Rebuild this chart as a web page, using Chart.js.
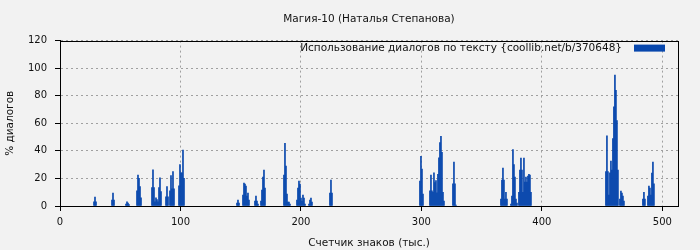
<!DOCTYPE html>
<html>
<head>
<meta charset="utf-8">
<script src="https://cdn.jsdelivr.net/npm/chart.js@4"></script>
<style>
  html, body { margin: 0; padding: 0; background: #f2f2f2; }
  #wrap { width: 700px; height: 250px; }
</style>
</head>
<body>
<div id="wrap"><canvas id="chart" width="700" height="250"></canvas></div>
<script>
const title = "Магия-10 (Наталья Степанова)";
const seriesLabel = "Использование диалогов по тексту {coollib.net/b/370648}";
const xTitle = "Счетчик знаков (тыс.)";
const yTitle = "% диалогов";

// each bar covers one bin of ~0.83 thousand characters
const binWidth = 0.83;
// first bin of each run of non-zero bars
const groupBins = [34, 52, 66, 77, 92, 106, 110, 119, 177, 183, 195, 201, 224, 237, 249, 270,
  360, 370, 393, 441, 451, 459, 546, 560, 583, 588];
// % of dialogue in consecutive bins of each run
const groupValues = [
  [3, 6.5, 3],
  [4.3, 9.4, 4.3],
  [1.4, 3, 2.2, 1],
  [11, 22.5, 20, 14, 6],
  [13.3, 26.3, 13.3, 3.1, 6, 4.6, 3.1, 13.3, 20.5, 10.4],
  [6.7, 14, 6.7],
  [11, 22, 12.5, 25, 12.5],
  [14.7, 30, 24, 24, 40.5, 20],
  [2.2, 4.3, 2.2],
  [8, 16.6, 15.9, 14.5, 7.2, 9.4, 4.3],
  [3.6, 7.2, 3.6, 1.4],
  [3.6, 11.6, 21, 26, 13],
  [22.4, 45.5, 28.9, 8.7, 2.9, 2.9, 1.4],
  [4.3, 13, 18, 15.9, 5.8, 3.6, 8, 5.8, 1.4],
  [1.4, 4.3, 5.8, 2.9],
  [9.4, 18.8, 9.4],
  [18, 36, 26.7, 8.7],
  [11, 22.5, 11, 10, 24, 17, 18.5, 9.5, 23, 35, 46, 50.5, 39, 10, 3.5],
  [16, 31.8, 16, 0.7],
  [5, 18.8, 27.5, 18.8, 5, 10, 5],
  [1.4, 7.2, 41, 30, 21, 5, 2.2],
  [10, 26, 34.7, 26, 10, 34.7, 17.3, 21, 17.3, 21.7, 23, 22.4, 10],
  [25, 51, 25, 8, 24, 32.5, 26, 49, 72, 95, 84, 62, 26],
  [5, 10.8, 9.4, 7.2, 3.6],
  [5, 10, 5],
  [7.2, 14.5, 13, 8, 23.9, 31.8, 16]
];

const points = [];
groupBins.forEach((bin, g) => {
  groupValues[g].forEach((v, i) => {
    points.push({ x: +((bin + i) * binWidth).toFixed(3), y: v });
  });
});

const FONT = "'DejaVu Sans', sans-serif";
const BLUE = "#0847ad";

// frame round the plot and legend inside it, top right
const framePlugin = {
  id: "frame",
  afterDraw(chart) {
    const { ctx, chartArea: a } = chart;
    ctx.save();
    ctx.strokeStyle = "#000";
    ctx.lineWidth = 1;
    ctx.strokeRect(Math.round(a.left) + 0.5, Math.round(a.top) + 0.5,
      Math.round(a.right - a.left), Math.round(a.bottom - a.top));

    const ds = chart.data.datasets[0];
    const boxW = 31, boxH = 7;
    const boxX = a.right - 13 - boxW;
    ctx.fillStyle = ds.backgroundColor;
    ctx.fillRect(boxX, a.top + 4, boxW, boxH);
    ctx.fillStyle = "#111";
    ctx.font = "10.5px " + FONT;
    ctx.textAlign = "right";
    ctx.textBaseline = "middle";
    ctx.fillText(ds.label, boxX - 12, a.top + 8);
    ctx.restore();
  },
};

new Chart(document.getElementById("chart"), {
  type: "bar",
  data: {
    datasets: [{
      label: seriesLabel,
      data: points,
      backgroundColor: BLUE,
      borderWidth: 0,
      barPercentage: 1,
      categoryPercentage: 1,
    }],
  },
  options: {
    responsive: false,
    animation: false,
    layout: { padding: { left: 0, right: 22, top: 0, bottom: 0 } },
    plugins: {
      legend: { display: false },
      tooltip: { enabled: false },
      title: {
        display: true,
        text: title,
        fullSize: false,
        color: "#111",
        font: { family: FONT, size: 10.5, weight: "normal" },
        padding: { top: 13, bottom: 15 },
      },
    },
    scales: {
      x: {
        type: "linear",
        min: 0,
        max: 513,
        offset: false,
        afterFit: (s) => { s.height = 44; },
        ticks: {
          stepSize: 100,
          includeBounds: false,
          color: "#111",
          padding: 5,
          font: { family: FONT, size: 10 },
        },
        grid: {
          color: "#a0a0a0",
          tickColor: "#000",
          tickLength: 5,
          offset: false,
        },
        border: { display: true, color: "#000", dash: [2, 3] },
        title: {
          display: true,
          text: xTitle,
          color: "#111",
          font: { family: FONT, size: 10.5 },
          padding: { top: 3, bottom: 0 },
        },
      },
      y: {
        min: 0,
        max: 120,
        afterFit: (s) => { s.width = 60; },
        ticks: {
          stepSize: 20,
          color: "#111",
          padding: 8,
          font: { family: FONT, size: 10 },
        },
        grid: {
          color: "#a0a0a0",
          tickColor: "#000",
          tickLength: 5,
        },
        border: { display: true, color: "#000", dash: [2, 3] },
        title: {
          display: true,
          text: yTitle,
          color: "#111",
          font: { family: FONT, size: 10.5 },
          padding: { top: 4, bottom: 0 },
        },
      },
    },
  },
  plugins: [framePlugin],
});
</script>
</body>
</html>
